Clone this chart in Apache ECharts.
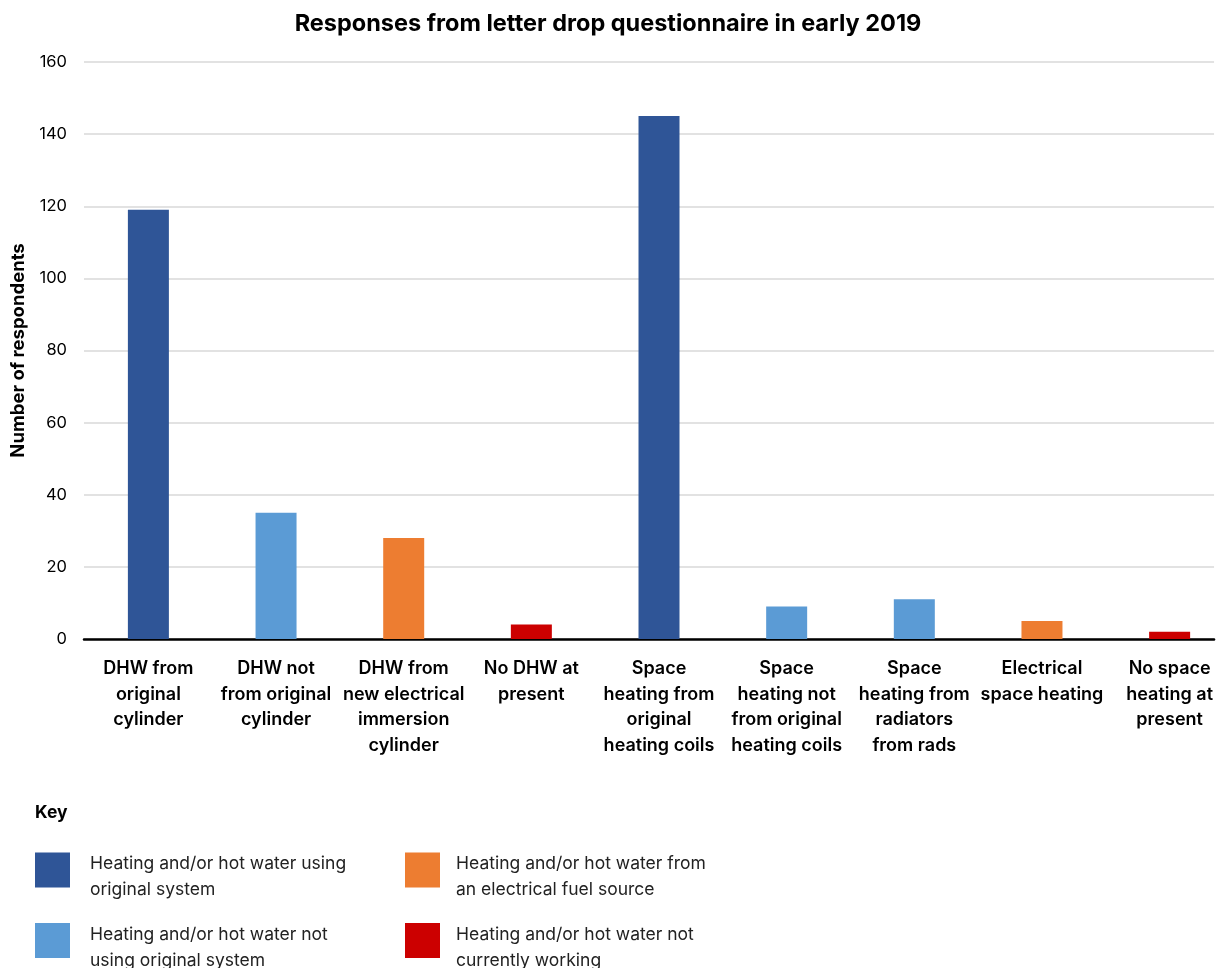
<!DOCTYPE html>
<html><head><meta charset="utf-8">
<script src="https://cdn.jsdelivr.net/npm/echarts@6/dist/echarts.min.js"></script>
<style>html,body{margin:0;padding:0;background:#fff}#c{width:1216px;height:968px}</style>
</head><body><div id="c"></div>
<script>
const categories = [
  "DHW from\noriginal\ncylinder",
  "DHW not\nfrom original\ncylinder",
  "DHW from\nnew electrical\nimmersion\ncylinder",
  "No DHW at\npresent",
  "Space\nheating from\noriginal\nheating coils",
  "Space\nheating not\nfrom original\nheating coils",
  "Space\nheating from\nradiators\nfrom rads",
  "Electrical\nspace heating",
  "No space\nheating at\npresent"
];
const values = [119, 35, 28, 4, 145, 9, 11, 5, 2];
const groupOf = [0, 1, 2, 3, 0, 1, 1, 2, 3];
const groupNames = [
  "Heating and/or hot water using\noriginal system",
  "Heating and/or hot water not\nusing original system",
  "Heating and/or hot water from\nan electrical fuel source",
  "Heating and/or hot water not\ncurrently working"
];
const groupColors = ["#2F5597", "#5B9BD5", "#ED7D31", "#CC0000"];
const yTicks = { min: 0, max: 160, interval: 20 };

const FONT = "Inter, 'Noto Sans', sans-serif";
// category slots are ~127.9px wide; the visible plot (84..1216) is cropped on the right
const catIdx = categories.map((c, i) => i);
const slotPx = 127.875, firstCenterOffset = 64.5, plotPx = 1132;
const xMin = -firstCenterOffset / slotPx, xMax = xMin + plotPx / slotPx;

const series = groupNames.map((name, g) => ({
  name: name,
  type: 'bar',
  barWidth: 41,
  barGap: '-100%',
  itemStyle: { color: groupColors[g] },
  data: values.map((v, i) => groupOf[i] === g ? [i, v] : null).filter(d => d)
}));

function legendOf(names, left, textGap) {
  return {
    data: names, left: left,
    top: 837, orient: 'vertical', itemWidth: 35, itemHeight: 35, itemGap: 4.5,
    padding: 0, icon: 'rect', selectedMode: false, height: 200,
    formatter: n => '{s| }\n' + n,
    textStyle: {
      fontSize: 17.5, lineHeight: 26, color: '#222', fontFamily: FONT, padding: [0, 0, 0, textGap],
      rich: { s: { fontSize: 1, lineHeight: 14 } }
    }
  };
}

const chart = echarts.init(document.getElementById('c'));
chart.setOption({
  animation: false,
  textStyle: { fontFamily: FONT },
  title: {
    text: 'Responses from letter drop questionnaire in early 2019',
    left: 'center', top: 7,
    textStyle: { fontFamily: FONT, fontSize: 23.5, fontWeight: 'bold', color: '#000' }
  },
  grid: { left: 84, right: 0, top: 62, bottom: 329, containLabel: false },
  xAxis: {
    type: 'value', min: xMin, max: xMax,
    splitLine: { show: false },
    axisLine: { show: true, onZero: false, lineStyle: { color: '#000', width: 2.5 } },
    axisTick: { show: false },
    axisLabel: {
      customValues: catIdx,
      formatter: v => categories[Math.round(v)] || '',
      margin: 17, color: '#000', fontSize: 18, fontWeight: 600,
      lineHeight: 25.5, fontFamily: FONT, align: 'center'
    }
  },
  yAxis: {
    type: 'value', min: yTicks.min, max: yTicks.max, interval: yTicks.interval,
    name: 'Number of respondents', nameLocation: 'middle', nameGap: 49, nameRotate: 90,
    nameTextStyle: { fontSize: 18.5, fontWeight: 'bold', color: '#000', fontFamily: FONT },
    axisLine: { show: false }, axisTick: { show: false },
    axisLabel: { color: '#000', fontSize: 16.5, margin: 17, fontFamily: FONT },
    splitLine: { lineStyle: { color: '#d9d9d9', width: 1.5 } }
  },
  legend: [
    legendOf([groupNames[0], groupNames[1]], 35, 15),
    legendOf([groupNames[2], groupNames[3]], 405, 11)
  ],
  graphic: [
    { type: 'text', left: 35, top: 804, style: { text: 'Key', fontSize: 17.5, fontWeight: 'bold', fill: '#000', fontFamily: FONT } }
  ],
  series: series
});
</script></body></html>
